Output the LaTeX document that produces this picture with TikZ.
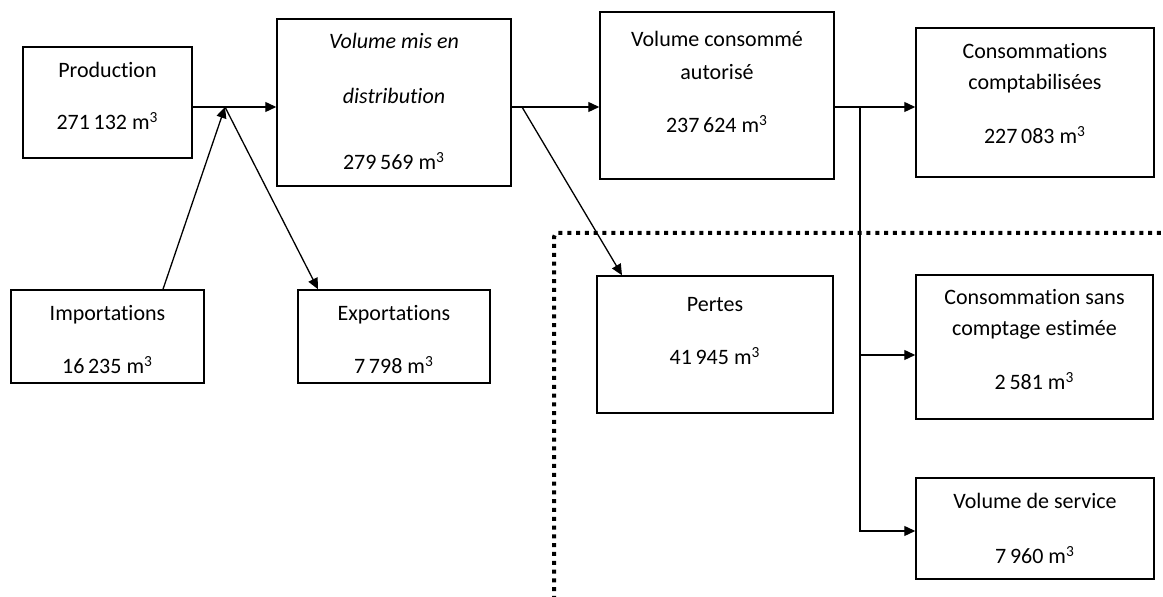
\documentclass[tikz,border=0pt]{standalone}
\usepackage{fontspec}
\setmainfont{Carlito}[Ligatures=NoCommon]
\usetikzlibrary{arrows.meta}

\begin{document}
\begin{tikzpicture}[x=0.5pt,y=-0.5pt,
    boite/.style={draw,line width=0.75pt,inner sep=0pt,align=flush center,
      font=\fontsize{11}{15.5}\selectfont},
    fleche/.style={line width=0.65pt,-{Triangle[length=5.5pt,width=5pt]}},
    pointille/.style={line width=2pt,dash pattern=on 2pt off 2.4pt,rounded corners=2pt}]
  \useasboundingbox (0,0) rectangle (1163,597);
  % zone des pertes
  \draw[pointille] (554,600) |- (1166,233);
  % boites
  \node[boite,text width=84.5pt,text height=15.5pt,text depth=40pt] (prod) at (107.5,102.5)
    {Production\\[10.5pt]271\,132 m\textsuperscript{3}};
  \node[boite,text width=117pt,text height=15pt,text depth=68.5pt] (vol) at (394,102.5)
    {\textit{Volume mis en}\\[12pt]\textit{distribution}\\[17.5pt]279\,569 m\textsuperscript{3}};
  \node[boite,text width=117pt,text height=17.5pt,text depth=66pt] (vca) at (717,95.5)
    {Volume consommé\\[1pt]autorisé\\[11pt]237\,624 m\textsuperscript{3}};
  \node[boite,text width=119pt,text height=15.5pt,text depth=59pt] (cc) at (1035,102.5)
    {Consommations\\comptabilisées\\[11.5pt]227\,083 m\textsuperscript{3}};
  \node[boite,text width=96.5pt,text height=15.5pt,text depth=31pt] (imp) at (107.5,336.5)
    {Importations\\[11pt]16\,235 m\textsuperscript{3}};
  \node[boite,text width=96pt,text height=15.5pt,text depth=31pt] (exp) at (394,336.5)
    {Exportations\\[11pt]7\,798 m\textsuperscript{3}};
  \node[boite,text width=118pt,text height=18pt,text depth=50.5pt] (pertes) at (715,344.5)
    {Pertes\\[11pt]41\,945 m\textsuperscript{3}};
  \node[boite,text width=118.5pt,text height=15pt,text depth=57pt] (csce) at (1034.5,347)
    {Consommation sans\\comptage estimée\\[11.5pt]2\,581 m\textsuperscript{3}};
  \node[boite,text width=119pt,text height=15.5pt,text depth=35pt] (vds) at (1035,528.5)
    {Volume de service\\[12pt]7\,960 m\textsuperscript{3}};
  % noeuds de jonction
  \coordinate (j) at (225,107);
  \coordinate (k) at (522,107);
  \coordinate (m) at (860,107);
  % fleches
  \draw[fleche] (prod.east |- j) -- (vol.west |- j);
  \draw[fleche] ([xshift=27.75pt]imp.north) -- (j);
  \draw[fleche] (j) -- ([xshift=-38pt]exp.north);
  \draw[fleche] (vol.east |- k) -- (vca.west |- k);
  \draw[fleche] (k) -- ([xshift=-46.5pt]pertes.north);
  \draw[fleche] (vca.east |- m) -- (cc.west |- m);
  \draw[fleche] (m) |- ([yshift=-4pt]csce.west);
  \draw[fleche] (m) |- ([yshift=-1.25pt]vds.west);
\end{tikzpicture}
\end{document}
